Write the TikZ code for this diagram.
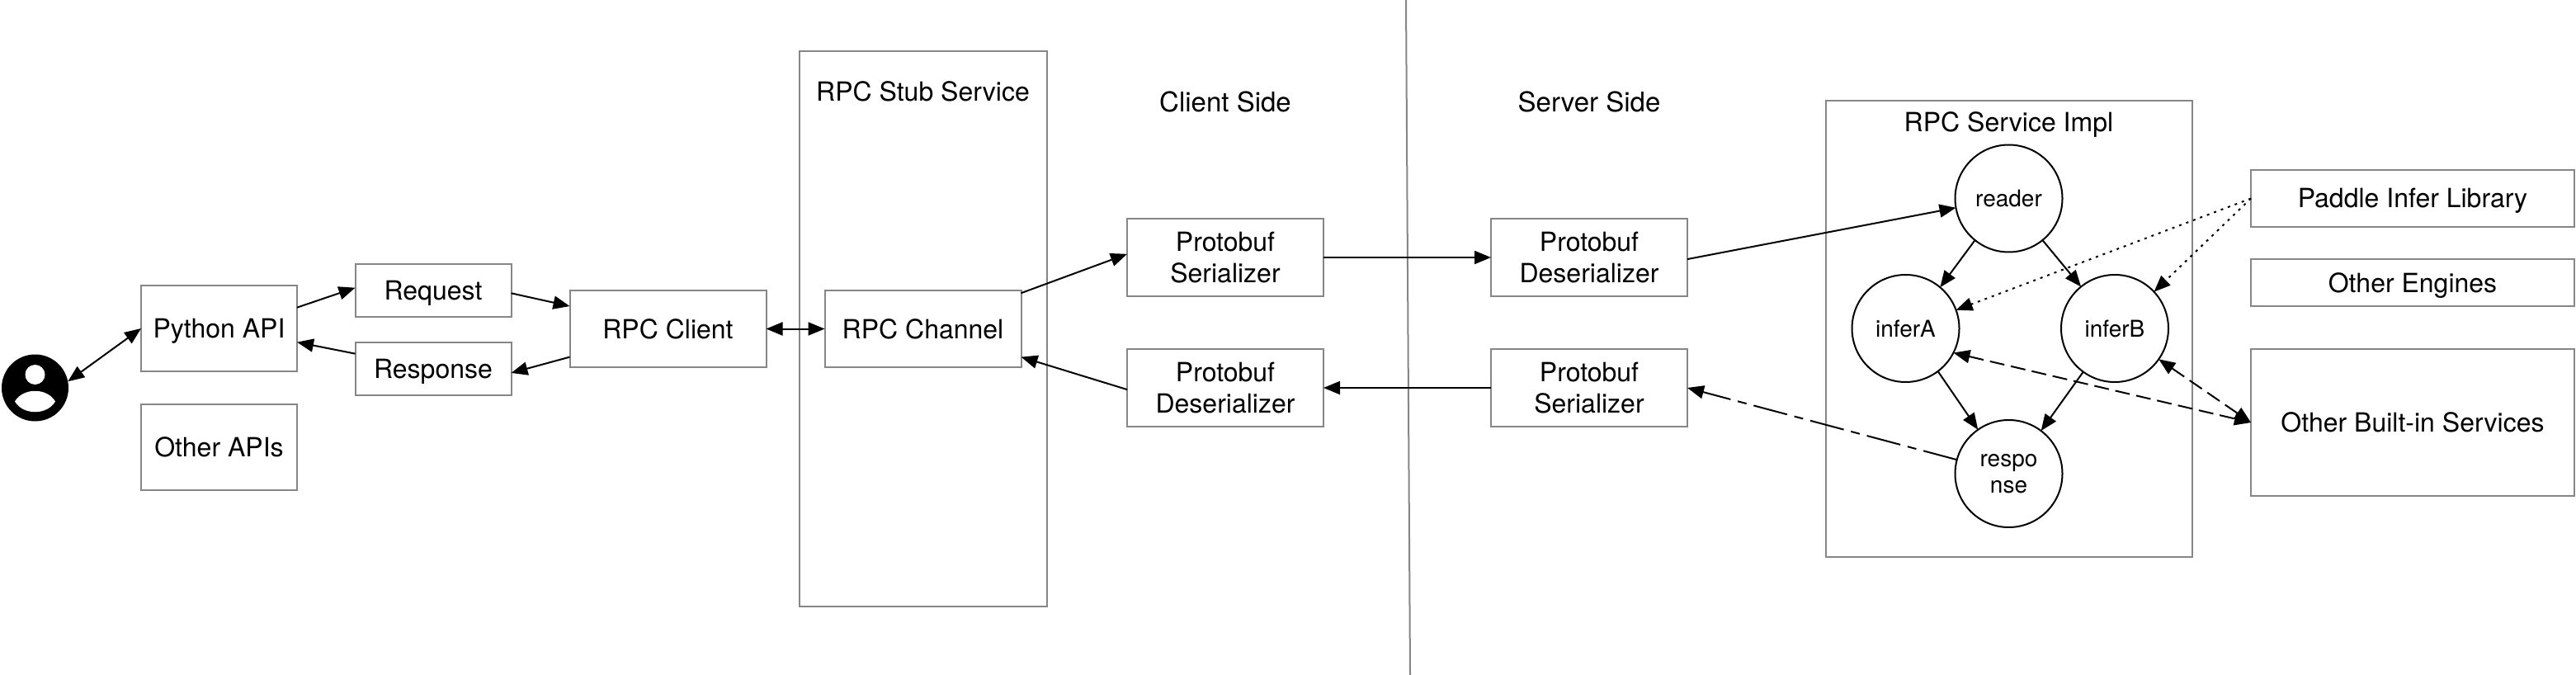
\documentclass[tikz,border=0pt]{standalone}
\usepackage{fontspec}
\setmainfont{TeX Gyre Heros}
\usetikzlibrary{arrows.meta,positioning}

\begin{document}
\begin{tikzpicture}[
      box_base/.style={
         rectangle,
         draw=gray!95,
         line width=1pt,
         inner sep=0pt,
         outer sep=0pt,
         font=\fontsize{16}{19}\selectfont},
      box_node/.style={
         box_base,
         text height=11.5pt,
         text depth=0pt},
      proto_node/.style={
         box_base,
         align=center,
         minimum width=119pt,
         minimum height=46.75pt},
      circle_node/.style={
         circle,
         draw=black,
         line width=1pt,
         inner sep=0pt,
         outer sep=0pt,
         minimum size=65pt,
         align=center,
         font=\fontsize{14}{16.3}\selectfont},
      text_node/.style={
         inner sep=0pt,
         text height=11.5pt,
         text depth=0pt,
         font=\fontsize{16}{19}\selectfont},
      side_node/.style={
         text_node,
         font=\fontsize{16.5}{19}\selectfont},
      arrow_black/.style={
         -{Triangle[length=10pt,width=8pt]},
         line width=1pt},
      arrow_both/.style={
         {Triangle[length=10pt,width=8pt]}-{Triangle[length=10pt,width=8pt]},
         line width=1pt},
      arrow_dot/.style={
         arrow_black,
         dash pattern=on 1.5pt off 3pt},
      arrow_dash/.style={
         arrow_both,
         dash pattern=on 9pt off 4pt},
      arrow_dashdot/.style={
         arrow_black,
         dash pattern=on 21pt off 4.5pt on 5.5pt off 4.5pt}
]
      \useasboundingbox (0,0) rectangle (1561pt,-409pt);

      %user
      \node[circle,fill=black,inner sep=0pt,outer sep=0pt,minimum size=40.5pt] (user) at (21.25pt,-235pt) {};
      \fill[white] ([yshift=8pt]user.center) circle (6pt);
      \fill[white] ([shift={(-12.25pt,-8.25pt)}]user.center)
         .. controls +(5pt,8.5pt) and +(-5pt,8.5pt) .. ([shift={(12.25pt,-8.25pt)}]user.center)
         .. controls +(-5pt,-8.5pt) and +(5pt,-8.5pt) .. ([shift={(-12.25pt,-8.25pt)}]user.center);

      %client side
      \node[box_node,minimum width=94.5pt,minimum height=52pt] (py) at (132.75pt,-199pt) {Python API};
      \node[box_node,minimum width=94.5pt,minimum height=52pt,below=20pt of py] (other) {Other APIs};

      \node[box_node,minimum width=94.5pt,minimum height=32pt,right=35.25pt of py,yshift=23pt] (request) {Request};
      \node[box_node,minimum width=94.5pt,minimum height=32pt,below=15.5pt of request] (response) {Response};

      \node[box_node,minimum width=119pt,minimum height=46.5pt,right=35.5pt of request,yshift=-23.25pt] (client) {RPC Client};
      \node[box_node,minimum width=119pt,minimum height=46.5pt,right=35.5pt of client] (channel) {RPC Channel};
      \node[box_base,minimum width=150pt,minimum height=336.75pt] (stub) at (channel) {};
      \node[text_node] (stub_txt) at ([yshift=-24.75pt]stub.north) {RPC Stub Service};

      \node[proto_node,right=64.25pt of channel,yshift=43.25pt] (ser_c) {Protobuf\\Serializer};
      \node[proto_node,below=32.25pt of ser_c] (des_c) {Protobuf\\Deserializer};
      \node[side_node] (client_txt) at ([yshift=70.75pt]ser_c.north) {Client Side};

      %server side
      \node[proto_node,right=101.5pt of ser_c] (des_s) {Protobuf\\Deserializer};
      \node[proto_node,right=101.5pt of des_c] (ser_s) {Protobuf\\Serializer};
      \node[side_node] (server_txt) at ([yshift=70.75pt]des_s.north) {Server Side};

      \node[box_base,minimum width=222pt,minimum height=276.5pt] (impl) at (1217.25pt,-199.25pt) {};
      \node[text_node] (impl_txt) at ([yshift=-13.25pt]impl.north) {RPC Service Impl};

      \node[circle_node] (reader) at (1217.25pt,-120.25pt) {reader};
      \node[circle_node] (infera) at (1154.75pt,-199pt) {inferA};
      \node[circle_node] (inferb) at (1281.5pt,-199pt) {inferB};
      \node[circle_node] (resp) at (1217.25pt,-287pt) {respo\\nse};

      \node[box_node,minimum width=196pt,minimum height=34.5pt] (paddle) at (1462pt,-120.25pt) {Paddle Infer Library};
      \node[box_node,minimum width=196pt,minimum height=28.5pt,below=19.5pt of paddle] (engines) {Other Engines};
      \node[box_node,minimum width=196pt,minimum height=89pt,below=26pt of engines] (builtin) {Other Built-in Services};

      %divider
      \coordinate (div_top) at (852pt,0pt);
      \coordinate (div_bot) at (854.5pt,-409pt);
      \draw[gray!95,line width=1pt] (div_top) -- (div_bot);

      \foreach \i/\j in {% start node/end node
        py.15.9/request.178.8,
        request.358.2/client.167.4,
        client.196.2/response.-3.6,
        response.169.3/py.-10.2,
        channel.20.4/ser_c.178,
        des_c.181.2/channel.-16,
        ser_c.east/des_s.west,
        ser_s.west/des_c.east,
        des_s.-1.2/reader.190.3,
        reader.231/infera.50.6,
        reader.309/inferb.129.4,
        infera.-53.8/resp.125,
        inferb.234.5/resp.53.6}
        \draw [arrow_black] (\i) -- (\j);

      \draw [arrow_both] (user.11) -- (py.west);
      \draw [arrow_both] (client.east) -- (channel.west);

      \draw [arrow_dashdot] (resp.165) -- (ser_s.east);

      \foreach \j in {infera.20.7,inferb.43.8}
        \draw [arrow_dot] (paddle.west) -- (\j);

      \foreach \i in {infera.-27.5,inferb.-35.3}
        \draw [arrow_dash] (\i) -- (builtin.west);
\end{tikzpicture}
\end{document}
